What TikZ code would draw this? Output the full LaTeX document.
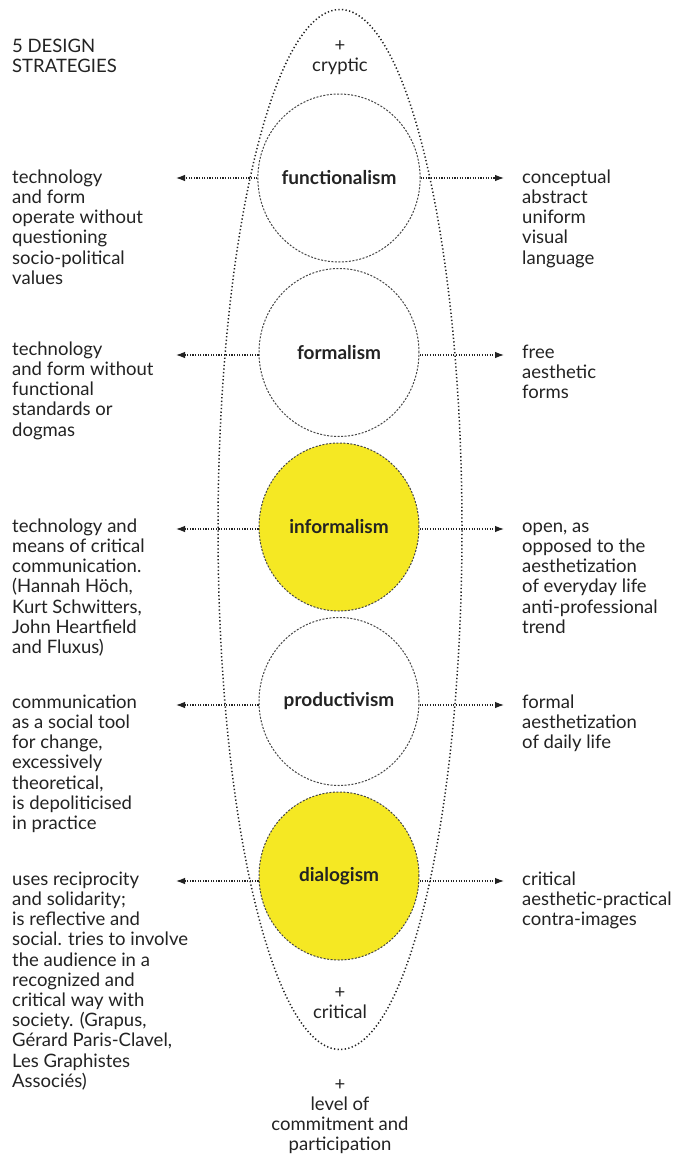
\documentclass[tikz,border=0pt]{standalone}
\usepackage{fontspec}
\setmainfont{Lato}
\usetikzlibrary{shapes.geometric,arrows.meta}
\definecolor{ink}{RGB}{35,35,35}
\definecolor{yel}{RGB}{245,232,35}
\definecolor{lin}{RGB}{70,70,70}
\begin{document}
\begin{tikzpicture}[x=1pt,y=-1pt,
  txt/.style={anchor=north west, inner sep=0pt, align=left, text=ink, font=\fontsize{18.5}{20.2}\selectfont},
  ctxt/.style={anchor=north, inner sep=0pt, align=center, text=ink, font=\fontsize{18.5}{20.2}\selectfont},
  circ/.style={ellipse, draw=lin, line width=1pt, dash pattern=on 2pt off 1.5pt, minimum width=160pt, minimum height=168pt, inner sep=0pt, fill=white, text=ink, font=\bfseries\fontsize{19}{20}\selectfont},
  hot/.style={circ, fill=yel},
  outer/.style={ellipse, draw=ink, line width=1.5pt, dash pattern=on 1.3pt off 2.3pt, minimum width=244pt, minimum height=1040pt, inner sep=0pt},
  arr/.style={draw=ink, line width=1.1pt, dash pattern=on 1.1pt off 1.5pt, -{Latex[length=9pt,width=6.5pt]}},
]
\useasboundingbox (0,0) rectangle (677,1154);
\fill[white] (0,0) rectangle (677,1154);

% circles
\node[circ] (c1) at (339,178) {functionalism};
\node[circ] (c2) at (339,352.5) {formalism};
\node[hot]  (c3) at (339,527) {informalism};
\node[circ] (c4) at (339,701.5) {productivism};
\node[hot]  (c5) at (339,876) {dialogism};

% outer ellipse
\node[outer] (oval) at (340,529.5) {};

% arrow ends
\coordinate (l1) at (176,178);
\coordinate (r1) at (504,178);
\coordinate (l2) at (176,355);
\coordinate (r2) at (504,355);
\coordinate (l3) at (176,529);
\coordinate (r3) at (504,529);
\coordinate (l4) at (176,705);
\coordinate (r4) at (504,705);
\coordinate (l5) at (176,881);
\coordinate (r5) at (504,881);

\draw[arr] (c1.west |- l1) -- (l1);
\draw[arr] (c1.east |- r1) -- (r1);
\draw[arr] (c2.west |- l2) -- (l2);
\draw[arr] (c2.east |- r2) -- (r2);
\draw[arr] (c3.west |- l3) -- (l3);
\draw[arr] (c3.east |- r3) -- (r3);
\draw[arr] (c4.west |- l4) -- (l4);
\draw[arr] (c4.east |- r4) -- (r4);
\draw[arr] (c5.west |- l5) -- (l5);
\draw[arr] (c5.east |- r5) -- (r5);

% title
\node[txt] (title) at (12,38) {\strut 5 DESIGN\\STRATEGIES};

% center texts
\node[ctxt] (top) at (340,37) {\strut +\\cryptic};
\node[ctxt] (bot) at (340,984) {\strut +\\critical};
\node[ctxt] (level) at (340,1076) {\strut +\\level of\\commitment and\\participation};

% left texts
\node[txt] (t1) at (12,169) {\strut technology\\and form\\operate without\\questioning\\socio-political\\values};
\node[txt] (t2) at (12,341) {\strut technology\\and form without\\functional\\standards or\\dogmas};
\node[txt] (t3) at (12,518) {\strut technology and\\means of critical\\communication.\\(Hannah Höch,\\Kurt Schwitters,\\John Heartfield\\and Fluxus)};
\node[txt] (t4) at (12,694) {\strut communication\\as a social tool\\for change,\\excessively\\theoretical,\\is depoliticised\\in practice};
\node[txt] (t5) at (12,871) {\strut uses reciprocity\\and solidarity;\\is reflective and\\social. tries to involve\\the audience in a\\recognized and\\critical way with\\society. (Grapus,\\Gérard Paris-Clavel,\\Les Graphistes\\Associés)};

% right texts
\node[txt] (s1) at (522,169) {\strut conceptual\\abstract\\uniform\\visual\\language};
\node[txt] (s2) at (522,344) {\strut free\\aesthetic\\forms};
\node[txt] (s3) at (522,518) {\strut open, as\\opposed to the\\aesthetization\\of everyday life\\anti-professional\\trend};
\node[txt] (s4) at (522,694) {\strut formal\\aesthetization\\of daily life};
\node[txt] (s5) at (522,871) {\strut critical\\aesthetic-practical\\contra-images};
\end{tikzpicture}
\end{document}
